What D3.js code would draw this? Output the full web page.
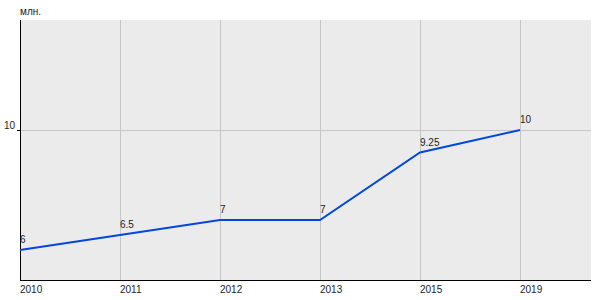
<!DOCTYPE html>
<html><head><meta charset="utf-8">
<script src="https://cdn.jsdelivr.net/npm/d3@7"></script>
<style>body{margin:0;background:#fff}svg{display:block}text{font-family:"Liberation Sans",Arial,sans-serif;font-size:10px;fill:#222}</style>
</head><body><svg id="c" width="600" height="300"></svg>
<script>
const categories = ["2010","2011","2012","2013","2015","2019"];
const values = [6, 6.5, 7, 7, 9.25, 10];
const valueLabels = ["6","6.5","7","7","9.25","10"];
const yTicks = [10];
const unitLabel = "млн.";

(function(){
const svg = d3.select("#c");
const pL = 20, pR = 591, pT = 20, pB = 280;
const x = d3.scalePoint().domain(categories).range([pL, 520]);
const y = d3.scaleLinear().domain([5, 10]).range([pB, 130]);

svg.append("rect").attr("x", pL).attr("y", pT).attr("width", pR-pL).attr("height", pB-pT).attr("fill", "#ebebeb");

svg.append("g").selectAll("line").data(categories.slice(1)).join("line")
  .attr("x1", d=>x(d)+0.5).attr("x2", d=>x(d)+0.5).attr("y1", pT).attr("y2", pB)
  .attr("stroke", "#c6c6c6").attr("stroke-width", 1);
svg.append("g").selectAll("line").data(yTicks).join("line")
  .attr("x1", pL).attr("x2", pR).attr("y1", d=>y(d)+0.5).attr("y2", d=>y(d)+0.5)
  .attr("stroke", "#c6c6c6").attr("stroke-width", 1);

svg.append("line").attr("x1", pL+0.5).attr("x2", pL+0.5).attr("y1", pT).attr("y2", pB+1).attr("stroke", "#000");
svg.append("line").attr("x1", pL).attr("x2", pR).attr("y1", pB+0.5).attr("y2", pB+0.5).attr("stroke", "#000");
svg.append("g").selectAll("line").data(yTicks).join("line")
  .attr("x1", pL-3).attr("x2", pL).attr("y1", d=>y(d)+0.5).attr("y2", d=>y(d)+0.5).attr("stroke", "#000");
svg.append("g").selectAll("text").data(yTicks).join("text")
  .attr("x", pL-5).attr("y", d=>y(d)-1).attr("text-anchor", "end").text(d=>d);
svg.append("g").selectAll("text").data(categories).join("text")
  .attr("x", d=>x(d)).attr("y", 293).text(d=>d);
svg.append("text").attr("x", pL).attr("y", 15).text(unitLabel);

const line = d3.line().x((d,i)=>x(categories[i])).y(d=>y(d));
svg.append("path").datum(values).attr("d", line).attr("fill", "none").attr("stroke", "#0047e0").attr("stroke-width", 2);

svg.append("g").selectAll("text").data(values).join("text")
  .attr("x", (d,i)=>x(categories[i])).attr("y", d=>y(d)-7).text((d,i)=>valueLabels[i]);
})();
</script></body></html>
